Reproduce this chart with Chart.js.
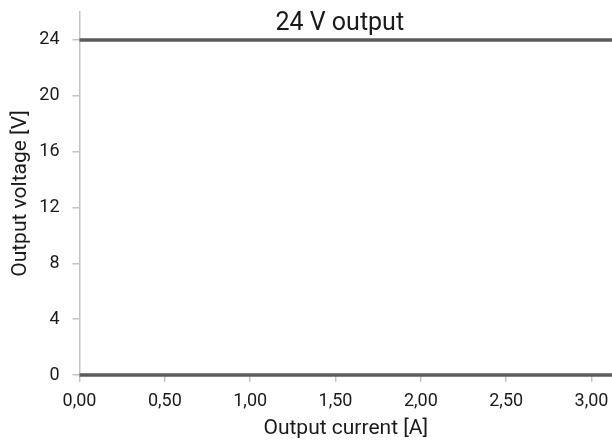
<!DOCTYPE html>
<html>
<head>
<meta charset="utf-8">
<script src="https://cdn.jsdelivr.net/npm/chart.js@4"></script>
<style>
  html, body { margin: 0; padding: 0; background: #ffffff; }
  #wrap { width: 612px; height: 441px; position: relative; }
</style>
</head>
<body>
<div id="wrap"><canvas id="c" width="612" height="441"></canvas></div>
<script>
// Data
const chartTitle = "24 V output";
const xAxisTitle = "Output current [A]";
const yAxisTitle = "Output voltage [V]";
const currents = [0, 3.12];          // A (line spans full x range)
const voltage24 = [24, 24];          // V output level
const voltageZero = [0, 0];          // baseline trace at 0 V
const xTicks = [0, 0.5, 1.0, 1.5, 2.0, 2.5, 3.0];
const yTicks = [0, 4, 8, 12, 16, 20, 24];

const lineColor = '#5b5b5b';
const axisColor = '#c3c3c3';
const textColor = '#1a1a1a';
const fontFamily = 'Roboto, "DejaVu Sans", sans-serif';

const toPoints = (xs, ys) => xs.map((x, i) => ({ x: x, y: ys[i] }));

const innerTitle = {
  id: 'innerTitle',
  afterDatasetsDraw(chart) {
    const { ctx, chartArea } = chart;
    ctx.save();
    ctx.font = '25px ' + fontFamily;
    ctx.fillStyle = textColor;
    ctx.textAlign = 'center';
    ctx.textBaseline = 'alphabetic';
    ctx.fillText(chartTitle, (chartArea.left + chartArea.right) / 2 - 6, chartArea.top + 17.5);
    ctx.restore();
  }
};

new Chart(document.getElementById('c'), {
  type: 'line',
  data: {
    datasets: [
      { data: toPoints(currents, voltage24), borderColor: lineColor, borderWidth: 3.5, pointRadius: 0, clip: false, tension: 0 },
      { data: toPoints(currents, voltageZero), borderColor: lineColor, borderWidth: 3.5, pointRadius: 0, clip: false, tension: 0 }
    ]
  },
  options: {
    responsive: false,
    animation: false,
    devicePixelRatio: 1,
    layout: { padding: { top: 12, right: 0, left: 0, bottom: 0 } },
    plugins: { legend: { display: false }, tooltip: { enabled: false }, title: { display: false } },
    scales: {
      x: {
        type: 'linear',
        min: 0,
        max: currents[currents.length - 1],
        afterBuildTicks: (s) => { s.ticks = xTicks.map(v => ({ value: v })); },
        afterFit: (s) => { s.height = 66; s.paddingLeft = 0; s.paddingRight = 0; },
        border: { color: axisColor, width: 1.5 },
        grid: { drawOnChartArea: false, drawTicks: true, tickLength: 7, color: axisColor, lineWidth: 1.5 },
        ticks: {
          color: textColor, padding: 9, maxRotation: 0, autoSkip: false,
          font: { family: fontFamily, size: 18 },
          callback: (v) => Number(v).toFixed(2).replace('.', ',')
        },
        title: { display: true, text: xAxisTitle, color: textColor, font: { family: fontFamily, size: 21 }, padding: { top: 0, bottom: 0 } }
      },
      y: {
        type: 'linear',
        min: 0,
        max: 26,
        afterBuildTicks: (s) => { s.ticks = yTicks.map(v => ({ value: v })); },
        afterFit: (s) => { s.width = 79.5; s.paddingTop = 0; s.paddingBottom = 0; },
        border: { color: axisColor, width: 1.5 },
        grid: { drawOnChartArea: false, drawTicks: true, tickLength: 7, color: axisColor, lineWidth: 1.5 },
        ticks: {
          color: textColor, padding: 13,
          font: { family: fontFamily, size: 18 },
          callback: (v) => String(v)
        },
        title: { display: true, text: yAxisTitle, color: textColor, font: { family: fontFamily, size: 21 }, padding: { top: 8, bottom: 0 } }
      }
    }
  },
  plugins: [innerTitle]
});
</script>
</body>
</html>
